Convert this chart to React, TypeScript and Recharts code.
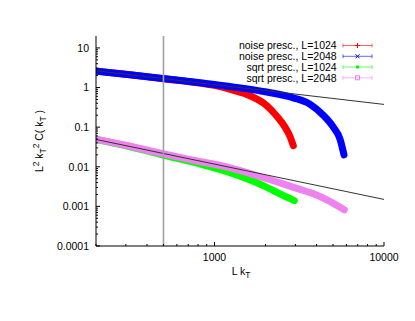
import { Line, LineChart, XAxis, YAxis } from 'recharts';

const FONT = '"Liberation Sans", Arial, Helvetica, sans-serif';
const FS = 10.5;

// L k_T values and L^2 k_T^2 C(k_T)
const noise1024K = [200, 317, 497, 822, 1030, 1286, 1620, 2033, 2329, 2606, 2790, 2917];
const noise1024C = [2.6, 2.1, 1.67, 1.29, 1.1, 0.86, 0.62, 0.35, 0.19, 0.1, 0.058, 0.034];

const noise2048K = [200, 317, 497, 822, 1286, 2033, 2917, 3660, 4385, 5024, 5502, 5809];
const noise2048C = [2.6, 2.1, 1.69, 1.32, 1.04, 0.77, 0.55, 0.38, 0.2, 0.1, 0.05, 0.02];

const sqrt1024K = [200, 314, 497, 778, 1224, 1925, 2413, 2958];
const sqrt1024C = [0.049, 0.0325, 0.0198, 0.0125, 0.0072, 0.0034, 0.0021, 0.0014];

const sqrt2048K = [200, 314, 497, 778, 1224, 1925, 3026, 3812, 4757, 5832];
const sqrt2048C = [0.05, 0.0335, 0.0213, 0.0142, 0.0095, 0.0054, 0.0029, 0.0021, 0.00135, 0.00082];

// power-law guides
const guideUpperK = [200, 10000];
const guideUpperC = [2.65, 0.375];
const guideLowerK = [200, 10000];
const guideLowerC = [0.049, 0.0015];

// vertical marker at L k_T = 500, across the whole y range
const markerK = [500, 500];
const markerC = [0.0001, 20];

const xMajor = [1000, 10000];
const xLabels = ['1000', '10000'];
const yMajor = [0.0001, 0.001, 0.01, 0.1, 1, 10];
const yLabels = ['0.0001', '0.001', '0.01', '0.1', '1', '10'];
const minorFactors = [2, 3, 4, 5, 6, 7, 8, 9];

const legendNames = [
  'noise presc., L=1024',
  'noise presc., L=2048',
  'sqrt presc., L=1024',
  'sqrt presc., L=2048',
];
const colors = ['#ff0000', '#0000ff', '#00ff00', '#ee82ee'];

const toPoints = (k: number[], c: number[]) => k.map((v, i) => ({ k: v, c: c[i] }));

const series = [
  toPoints(noise1024K, noise1024C),
  toPoints(noise2048K, noise2048C),
  toPoints(sqrt1024K, sqrt1024C),
  toPoints(sqrt2048K, sqrt2048C),
];
const guides = [toPoints(guideUpperK, guideUpperC), toPoints(guideLowerK, guideLowerC)];
const marker = toPoints(markerK, markerC);

const xTicks = [
  ...[100, 1000].flatMap((d) => minorFactors.map((f) => f * d)).filter((v) => v >= 200 && v <= 10000),
  ...xMajor,
];
const yTicks = [...yMajor.slice(0, 5).flatMap((d) => minorFactors.map((f) => f * d)), ...yMajor];

const majorIndex = (list: number[], v: number) =>
  list.findIndex((m) => Math.abs(Math.log10(m) - Math.log10(v)) < 1e-6);

function BottomTick(props: any) {
  const { x, y, payload } = props;
  const i = majorIndex(xMajor, payload.value);
  return (
    <g>
      <line x1={x} y1={y} x2={x} y2={y - (i >= 0 ? 4 : 2)} stroke="#000" />
      {i >= 0 && (
        <text x={x} y={y + 15} textAnchor="middle" fontFamily={FONT} fontSize={FS} fill="#000">
          {xLabels[i]}
        </text>
      )}
    </g>
  );
}

function TopTick(props: any) {
  const { x, y, payload } = props;
  const i = majorIndex(xMajor, payload.value);
  return <line x1={x} y1={y} x2={x} y2={y + (i >= 0 ? 4 : 2)} stroke="#000" />;
}

function LeftTick(props: any) {
  const { x, y, payload } = props;
  const i = majorIndex(yMajor, payload.value);
  return (
    <g>
      <line x1={x} y1={y} x2={x + (i >= 0 ? 4 : 2)} y2={y} stroke="#000" />
      {i >= 0 && (
        <text x={x - 7} y={y} dy="0.36em" textAnchor="end" fontFamily={FONT} fontSize={FS} fill="#000">
          {yLabels[i]}
        </text>
      )}
    </g>
  );
}

function RightTick(props: any) {
  const { x, y, payload } = props;
  const i = majorIndex(yMajor, payload.value);
  return <line x1={x} y1={y} x2={x - (i >= 0 ? 4 : 2)} y2={y} stroke="#000" />;
}

function LegendMarker({ i, cx, cy }: { i: number; cx: number; cy: number }) {
  const c = colors[i];
  if (i === 0)
    return (
      <g stroke={c}>
        <line x1={cx - 2.5} y1={cy} x2={cx + 2.5} y2={cy} />
        <line x1={cx} y1={cy - 2.5} x2={cx} y2={cy + 2.5} />
      </g>
    );
  if (i === 1)
    return (
      <g stroke={c}>
        <line x1={cx - 2} y1={cy - 2} x2={cx + 2} y2={cy + 2} />
        <line x1={cx - 2} y1={cy + 2} x2={cx + 2} y2={cy - 2} />
      </g>
    );
  if (i === 2) return <rect x={cx - 1.5} y={cy - 1.5} width={3} height={3} fill={c} />;
  return <rect x={cx - 2} y={cy - 2} width={4} height={4} fill="none" stroke={c} />;
}

export default function App() {
  const W = 400;
  const H = 305;
  const rowY = [37.5, 48.3, 59, 69.8];
  return (
    <div style={{ position: 'relative', width: W, height: H }}>
      <LineChart width={W} height={H} margin={{ top: 28, right: 24, left: 0, bottom: 0 }}>
        <XAxis
          xAxisId="b"
          dataKey="k"
          type="number"
          scale="log"
          domain={[200, 10000]}
          allowDataOverflow
          ticks={xTicks}
          interval={0}
          tickSize={0}
          tickMargin={0}
          tick={<BottomTick />}
          axisLine={{ stroke: '#000' }}
          height={67}
        />
        <XAxis
          xAxisId="t"
          orientation="top"
          type="number"
          scale="log"
          domain={[200, 10000]}
          allowDataOverflow
          ticks={xTicks}
          interval={0}
          tickSize={0}
          tickMargin={0}
          tick={<TopTick />}
          axisLine={{ stroke: '#000' }}
          height={0}
        />
        <YAxis
          yAxisId="l"
          type="number"
          scale="log"
          domain={[0.0001, 20]}
          allowDataOverflow
          ticks={yTicks}
          interval={0}
          tickSize={0}
          tickMargin={0}
          tick={<LeftTick />}
          axisLine={{ stroke: '#000' }}
          width={88}
        />
        <YAxis
          yAxisId="r"
          orientation="right"
          type="number"
          scale="log"
          domain={[0.0001, 20]}
          allowDataOverflow
          ticks={yTicks}
          interval={0}
          tickSize={0}
          tickMargin={0}
          tick={<RightTick />}
          axisLine={{ stroke: '#000' }}
          width={0}
        />
        {series.map((d, i) => (
          <Line
            key={legendNames[i]}
            data={d}
            dataKey="c"
            xAxisId="b"
            yAxisId="l"
            type="monotone"
            stroke={colors[i]}
            strokeWidth={7}
            strokeLinecap="round"
            strokeLinejoin="round"
            dot={false}
            isAnimationActive={false}
          />
        ))}
        {guides.map((d, i) => (
          <Line
            key={'guide' + i}
            data={d}
            dataKey="c"
            xAxisId="b"
            yAxisId="l"
            type="linear"
            stroke="#333"
            strokeWidth={1}
            dot={false}
            isAnimationActive={false}
          />
        ))}
        <Line
          data={marker}
          dataKey="c"
          xAxisId="b"
          yAxisId="l"
          type="linear"
          stroke="#a0a0a0"
          strokeWidth={1.6}
          dot={false}
          isAnimationActive={false}
        />
      </LineChart>
      <svg
        width={W}
        height={H}
        style={{ position: 'absolute', left: 0, top: 0, pointerEvents: 'none' }}
        fontFamily={FONT}
        fontSize={FS}
      >
        {legendNames.map((name, i) => (
          <g key={name}>
            <text x={328.7} y={rowY[i]} dy="0.36em" textAnchor="end" fill="#000">
              {name}
            </text>
            <g stroke={colors[i]} strokeOpacity={0.6}>
              <line x1={335} y1={rowY[i]} x2={364} y2={rowY[i]} />
              <line x1={335} y1={rowY[i] - 2} x2={335} y2={rowY[i] + 2} />
              <line x1={364} y1={rowY[i] - 2} x2={364} y2={rowY[i] + 2} />
            </g>
            <LegendMarker i={i} cx={349.5} cy={rowY[i]} />
          </g>
        ))}
        <text x={233} y={267} textAnchor="middle" fill="#000">
          L k<tspan dy={3} fontSize={FS * 0.8}>T</tspan>
        </text>
        <text x={34.5} y={133} textAnchor="middle" fill="#000" transform="rotate(-90 34.5 133)">
          L<tspan dy={-4} fontSize={FS * 0.8}>2</tspan>
          <tspan dy={4}> k</tspan>
          <tspan dy={3} fontSize={FS * 0.8}>T</tspan>
          <tspan dy={-7} fontSize={FS * 0.8}>2</tspan>
          <tspan dy={4}> C( k</tspan>
          <tspan dy={3} fontSize={FS * 0.8}>T</tspan>
          <tspan dy={-3}> )</tspan>
        </text>
      </svg>
    </div>
  );
}
